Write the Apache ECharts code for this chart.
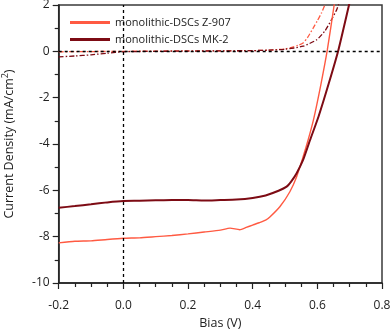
<!DOCTYPE html>
<html><head><meta charset="utf-8">
<script src="https://cdn.jsdelivr.net/npm/echarts@6/dist/echarts.min.js"></script>
<style>html,body{margin:0;padding:0;background:#fff}#c{width:392px;height:333px}</style>
</head><body><div id="c"></div>
<script>
var seriesNames = ['monolithic-DSCs Z-907', 'monolithic-DSCs MK-2'];
var z907X = [-0.2,-0.15,-0.1,-0.05,0,0.05,0.1,0.15,0.2,0.25,0.3,0.33,0.36,0.38,0.4,0.42,0.44,0.454,0.484,0.515,0.536,0.556,0.571,0.588,0.61,0.631,0.652,0.66];
var z907Y = [-8.27,-8.2,-8.18,-8.12,-8.07,-8.05,-8.0,-7.95,-7.88,-7.8,-7.72,-7.63,-7.7,-7.6,-7.5,-7.4,-7.29,-7.14,-6.71,-6.06,-5.41,-4.55,-3.85,-2.96,-1.5,0.07,2.0,2.8];
var mk2X = [-0.2,-0.15,-0.1,-0.05,0,0.05,0.1,0.15,0.2,0.25,0.3,0.35,0.4,0.44,0.48,0.505,0.52,0.536,0.556,0.577,0.604,0.635,0.665,0.698,0.71];
var mk2Y = [-6.75,-6.68,-6.6,-6.52,-6.46,-6.45,-6.43,-6.42,-6.42,-6.44,-6.42,-6.4,-6.33,-6.22,-6.02,-5.84,-5.6,-5.26,-4.69,-3.85,-2.8,-1.4,0.05,2.0,2.7];
var z907DarkX = [-0.2,-0.1,0,0.1,0.2,0.3,0.4,0.45,0.48,0.5,0.52,0.54,0.556,0.57,0.587,0.6,0.613,0.623,0.63];
var z907DarkY = [-0.02,-0.01,0,0.01,0.02,0.02,0.03,0.05,0.08,0.1,0.17,0.26,0.36,0.6,1.0,1.32,1.66,2.0,2.3];
var mk2DarkX = [-0.2,-0.15,-0.1,-0.05,0,0.1,0.2,0.3,0.4,0.45,0.5,0.556,0.598,0.623,0.644,0.66,0.665,0.675];
var mk2DarkY = [-0.24,-0.2,-0.15,-0.08,-0.02,0,0.01,0.02,0.03,0.05,0.09,0.22,0.5,0.87,1.37,1.8,2.0,2.3];

var lightColor = '#FF5A42';
var darkColor = '#7D0B14';
function pairs(xs, ys){ return xs.map(function(x,i){return [x, ys[i]];}); }
var font = '"Open Sans", "Noto Sans", sans-serif';

var chart = echarts.init(document.getElementById('c'));
chart.setOption({
  animation: false,
  grid: {left: 58.7, right: 10, top: 5, bottom: 50, outerBoundsMode: 'none', containLabel: false, show: true, borderColor: '#3a3a3a', borderWidth: 1.5, backgroundColor: 'transparent'},
  legend: {
    data: seriesNames, orient: 'vertical', left: 65, top: 12, itemWidth: 40, itemHeight: 3, itemGap: 6,
    textStyle: {fontFamily: font, fontSize: 11, color: '#222'}, icon: 'rect'
  },
  xAxis: {
    type: 'value', min: -0.2, max: 0.8, interval: 0.2,
    name: 'Bias (V)', nameLocation: 'middle', nameGap: 34,
    nameTextStyle: {fontFamily: font, fontSize: 12.5, color: '#222'},
    axisLine: {show: true, onZero: false, lineStyle: {color: '#222', width: 1.5}},
    axisTick: {show: true, length: 6, lineStyle: {color: '#222', width: 1.2}},
    minorTick: {show: true, splitNumber: 4, length: 4, lineStyle: {color: '#222', width: 1.2}},
    axisLabel: {fontFamily: font, fontSize: 12, color: '#222', margin: 17, formatter: function(v){return v.toFixed(1);}},
    splitLine: {show: false}
  },
  yAxis: {
    type: 'value', min: -10, max: 2, interval: 2,
    name: 'Current Density (mA/cm{sup|2})', nameLocation: 'middle', nameGap: 40,
    nameTextStyle: {fontFamily: font, fontSize: 12.5, color: '#222', rich: {sup: {fontFamily: font, fontSize: 9, verticalAlign: 'bottom', padding: [0,0,9,0], color: '#222'}}},
    axisLine: {show: true, onZero: false, lineStyle: {color: '#222', width: 1.5}},
    axisTick: {show: true, length: 6, lineStyle: {color: '#222', width: 1.2}},
    minorTick: {show: true, splitNumber: 2, length: 4, lineStyle: {color: '#222', width: 1.2}},
    axisLabel: {fontFamily: font, fontSize: 12, color: '#222', margin: 9},
    splitLine: {show: false}
  },
  series: [
    {name: seriesNames[0], type: 'line', data: pairs(z907X, z907Y), showSymbol: false, smooth: 0.2, clip: true,
     lineStyle: {color: lightColor, width: 1.4}, itemStyle: {color: lightColor}, z: 3,
     markLine: {silent: true, symbol: 'none', label: {show: false}, lineStyle: {color: '#000', type: [3,3], width: 1.3},
       data: [{xAxis: 0}, {yAxis: 0}]}},
    {name: seriesNames[1], type: 'line', data: pairs(mk2X, mk2Y), showSymbol: false, smooth: 0.2, clip: true,
     lineStyle: {color: darkColor, width: 2}, itemStyle: {color: darkColor}, z: 3},
    {name: 'z907dark', type: 'line', data: pairs(z907DarkX, z907DarkY), showSymbol: false, smooth: 0.2, clip: true,
     lineStyle: {color: lightColor, width: 1.3, type: [5,2,1.5,2]}, z: 2},
    {name: 'mk2dark', type: 'line', data: pairs(mk2DarkX, mk2DarkY), showSymbol: false, smooth: 0.2, clip: true,
     lineStyle: {color: darkColor, width: 1.3, type: [5,2,1.5,2]}, z: 2}
  ]
});
</script></body></html>
